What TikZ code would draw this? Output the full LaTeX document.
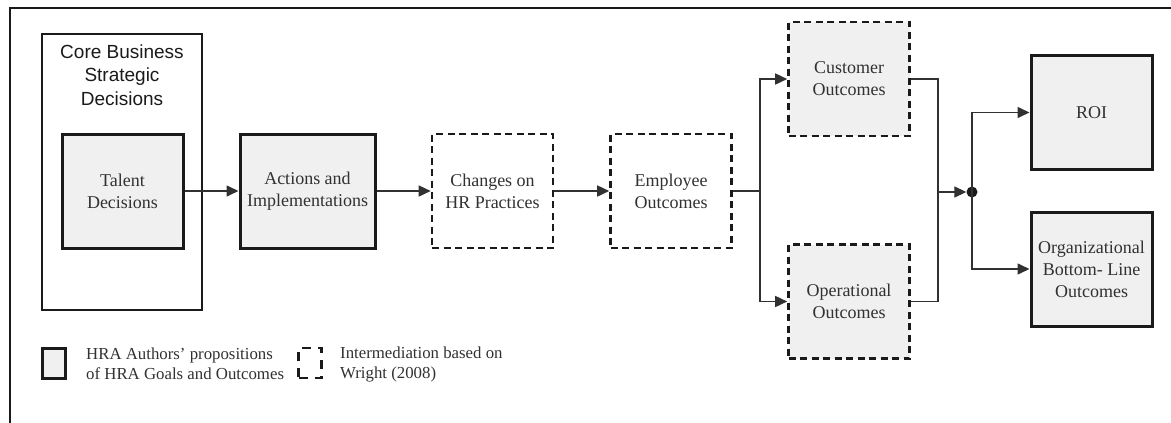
\documentclass[tikz,border=0pt]{standalone}
\usepackage{fontspec}
\setmainfont{Liberation Serif}
\newfontfamily\headfont{Liberation Sans}
\usetikzlibrary{arrows.meta}
\definecolor{boxfill}{HTML}{F0F0F0}
\definecolor{ink}{HTML}{1A1A1A}
\begin{document}
\begin{tikzpicture}[x=1pt,y=-1pt,
  txt/.style={font=\fontsize{18}{22}\selectfont, text=ink!90, align=center},
  solidbox/.style={txt, draw=ink, line width=3pt, fill=boxfill,
    minimum width=121pt, minimum height=114pt, inner sep=2pt},
  dashbox/.style={txt, draw=ink, line width=2.6pt, dash pattern=on 7pt off 4.5pt,
    minimum width=121pt, minimum height=114pt, inner sep=2pt},
  link/.style={draw=ink!90, line width=1.6pt},
  arr/.style={link, -{Triangle[length=12pt,width=11pt]}},
  legtxt/.style={font=\fontsize{16.8}{20}\selectfont, text=ink!90, align=left, anchor=west, inner sep=0pt}
]
\useasboundingbox (0,0) rectangle (1171,423);

% outer frame (open to the right and bottom)
\draw[ink, line width=2.6pt] (10,423) -- (10,8) -- (1171,8);

% core business container with its heading
\node[draw=ink, line width=2.6pt, minimum width=160pt, minimum height=276pt, inner sep=0pt]
  (core) at (122,172) {};
\node[font=\headfont\fontsize{19}{23.5}\selectfont, text=ink, align=center]
  (corett) at (122,75) {Core Business\\Strategic\\Decisions};

% main chain
\node[solidbox] (talent) at (122.5,191) {Talent\\Decisions};
\node[solidbox, minimum width=135pt] (act) at (307.5,191) {Actions and\\Implementations};
\node[dashbox] (chg) at (492.5,191) {Changes on\\HR Practices};
\node[dashbox] (emp) at (671,191) {Employee\\Outcomes};

% intermediate outcomes
\node[dashbox, fill=boxfill] (cust) at (849,79) {Customer\\Outcomes};
\node[dashbox, fill=boxfill] (oper) at (849,301.5) {Operational\\Outcomes};

% final outcomes
\node[solidbox] (roi) at (1091.5,112.5) {ROI};
\node[solidbox] (org) at (1091.5,269) {Organizational\\Bottom- Line\\Outcomes};

% connectors
\draw[arr] (talent.east) -- (act.west);
\draw[arr] (act.east) -- (chg.west);
\draw[arr] (chg.east) -- (emp.west);

\coordinate (split) at (760,191);
\draw[link] (emp.east) -- (split);
\draw[arr] (split) |- (cust.west);
\draw[arr] (split) |- (oper.west);

\coordinate (merge) at (938,192);
\node[circle, fill=ink, inner sep=0pt, minimum size=11pt] (dot) at (972,192) {};
\draw[link] (cust.east) -| (merge);
\draw[link] (oper.east) -| (merge);
\draw[arr] (merge) -- (dot.west);
\draw[arr] (dot.center) |- (roi.west);
\draw[arr] (dot.center) |- (org.west);

% legend
\node[draw=ink, line width=3pt, fill=boxfill, minimum width=23pt, minimum height=30pt, inner sep=0pt]
  (legsolid) at (53.5,363) {};
\node[legtxt] (legsolidtxt) at (86,364) {HRA Authors' propositions\\of HRA Goals and Outcomes};
\node[draw=ink, line width=2.6pt, dash pattern=on 9pt off 7pt, minimum width=23pt, minimum height=30pt, inner sep=0pt]
  (legdash) at (310,363) {};
\node[legtxt] (legdashtxt) at (340,364) {Intermediation based on\\Wright (2008)};
\end{tikzpicture}
\end{document}
